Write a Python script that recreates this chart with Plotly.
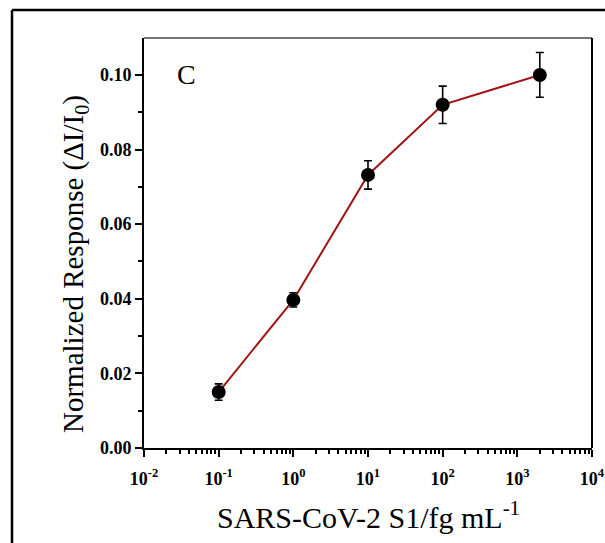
import plotly.graph_objects as go

conc = [0.1, 1, 10, 100, 2000]
response = [0.0150, 0.0397, 0.0732, 0.0920, 0.1000]
err = [0.0022, 0.0019, 0.0038, 0.0050, 0.0060]

x_major = [1e-2, 1e-1, 1e0, 1e1, 1e2, 1e3, 1e4]
x_labels = ["10<sup>-2</sup>", "10<sup>-1</sup>", "10<sup>0</sup>", "10<sup>1</sup>",
            "10<sup>2</sup>", "10<sup>3</sup>", "10<sup>4</sup>"]
x_minor = [m * 10.0 ** e for e in range(-2, 4) for m in range(2, 10)]
y_major = [0.00, 0.02, 0.04, 0.06, 0.08, 0.10]
y_labels = ["0.00", "0.02", "0.04", "0.06", "0.08", "0.10"]
y_minor = [0.01, 0.03, 0.05, 0.07, 0.09]

serif = "Liberation Serif, Times New Roman, serif"

L, R, T, B = 144, 592, 38, 448
W, H = 605, 543
pw, ph = R - L, B - T


def px(x):
    return (x - L) / pw


def py(y):
    return (B - y) / ph


fig = go.Figure()
fig.add_trace(go.Scatter(
    x=conc, y=response, mode="lines+markers",
    line=dict(color="#a01414", width=2),
    marker=dict(color="black", size=14),
    error_y=dict(type="data", array=err, visible=True, color="black",
                 thickness=1.6, width=4),
    showlegend=False,
))

fig.update_layout(
    width=W, height=H,
    margin=dict(l=L, r=W - R, t=T, b=H - B, autoexpand=False),
    paper_bgcolor="white", plot_bgcolor="white",
    font=dict(family=serif, color="black"),
    xaxis=dict(
        type="log", range=[-2, 4], automargin=False,
        tickmode="array", tickvals=x_major, ticktext=x_labels,
        ticks="outside", ticklen=7, tickwidth=2, tickcolor="black",
        ticklabelstandoff=6,
        minor=dict(tickmode="array", tickvals=x_minor, ticks="outside",
                   ticklen=4, tickwidth=1.5, tickcolor="black"),
        showline=True, linecolor="black", linewidth=2,
        mirror=False, showgrid=False, zeroline=False,
        tickfont=dict(size=18, family=serif, weight="bold"),
    ),
    yaxis=dict(
        range=[0, 0.1099], automargin=False,
        tickmode="array", tickvals=y_major, ticktext=y_labels,
        ticks="outside", ticklen=7, tickwidth=2, tickcolor="black",
        minor=dict(tickmode="array", tickvals=y_minor, ticks="outside",
                   ticklen=4, tickwidth=1.5, tickcolor="black"),
        showline=True, linecolor="black", linewidth=2,
        showgrid=False, zeroline=False,
        tickfont=dict(size=18, family=serif, weight="bold"),
    ),
)

# axis titles
fig.add_annotation(text="SARS-CoV-2 S1/fg mL<sup>-1</sup>", xref="paper", yref="paper",
                   x=px(368), y=py(515), xanchor="center", yanchor="middle",
                   showarrow=False,
                   font=dict(size=30, family=serif, color="black"))
fig.add_annotation(text="Normalized Response (ΔI/I<sub>0</sub>)", xref="paper", yref="paper",
                   x=px(75), y=py(264), xanchor="center", yanchor="middle",
                   showarrow=False, textangle=-90,
                   font=dict(size=29, family=serif, color="black"))

# top/right frame of plot area
fig.add_shape(type="line", xref="paper", yref="paper", x0=0, x1=1, y0=1, y1=1,
              line=dict(color="#444444", width=1.5))
fig.add_shape(type="line", xref="paper", yref="paper", x0=1, x1=1, y0=0, y1=1,
              line=dict(color="black", width=2))
# outer figure border (left and top)
fig.add_shape(type="line", xref="paper", yref="paper",
              x0=px(12), x1=px(12), y0=py(550), y1=py(10),
              line=dict(color="black", width=2.5))
fig.add_shape(type="line", xref="paper", yref="paper",
              x0=px(12), x1=px(620), y0=py(10), y1=py(10),
              line=dict(color="black", width=2.5))

fig.add_annotation(text="C", xref="paper", yref="paper",
                   x=px(186), y=py(75), xanchor="center", yanchor="middle",
                   showarrow=False,
                   font=dict(size=28, family=serif, color="black"))

fig.write_html(
    "out.html",
    config={"displayModeBar": False},
    post_script="document.body.style.margin='0';document.body.style.overflow='hidden';",
)
